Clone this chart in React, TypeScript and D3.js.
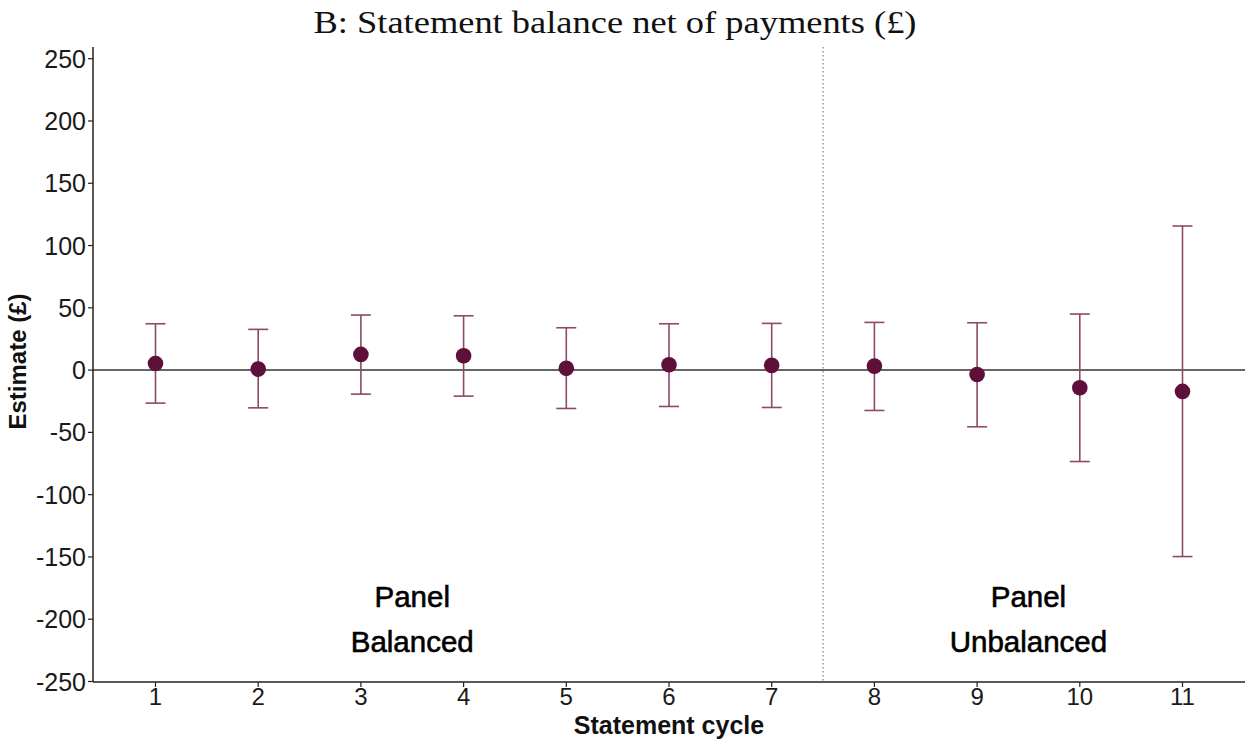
import React from "react";
import * as d3 from "d3";

const cycles = [1, 2, 3, 4, 5, 6, 7, 8, 9, 10, 11];
const estimates = [5.3, 0.8, 12.6, 11.5, 1.4, 4.3, 3.8, 3.2, -3.5, -14.2, -17.1];
const upper = [37.2, 32.7, 44.2, 43.6, 34, 37.2, 37.5, 38.3, 38, 45, 115.7];
const lower = [-26.5, -30.3, -19.3, -20.9, -30.8, -29.2, -30, -32.4, -45.5, -73.4, -149.7];
const yTicks = [250, 200, 150, 100, 50, 0, -50, -100, -150, -200, -250];
const panelLabels = [
  { x: 3.5, lines: ["Panel", "Balanced"] },
  { x: 9.5, lines: ["Panel", "Unbalanced"] },
];
const divider = 7.5;

const W = 1249;
const H = 742;
const left = 93;
const right = 1245;
const top = 47;
const bottom = 682;

export default function App() {
  const x = d3.scaleLinear().domain([1, 11]).range([155.5, 1182.5]);
  const y = d3.scaleLinear().domain([-250, 250]).range([681.5, 58.7]);
  const sans = "'Liberation Sans', Arial, sans-serif";
  const pointColor = "#5e0f3a";
  const barColor = "#8c4a66";
  const capHalf = 10;

  return (
    <svg
      width={W}
      height={H}
      style={{ position: "absolute", left: 0, top: 0, background: "#fff" }}
    >
      <rect x={0} y={0} width={W} height={H} fill="#fff" />
      <text
        x={615}
        y={33}
        textAnchor="middle"
        fontFamily="'Liberation Serif', 'DejaVu Serif', serif"
        fontSize={31}
        fill="#111"
        textLength={603}
        lengthAdjust="spacingAndGlyphs"
      >
        B: Statement balance net of payments (£)
      </text>

      {/* divider */}
      <line
        x1={x(divider)}
        x2={x(divider)}
        y1={top}
        y2={bottom}
        stroke="#999"
        strokeWidth={1.5}
        strokeDasharray="1.5 2.5"
      />

      {/* zero line */}
      <line x1={left} x2={right} y1={y(0)} y2={y(0)} stroke="#333" strokeWidth={1.5} />

      {/* axes */}
      <line x1={left} x2={left} y1={top} y2={bottom} stroke="#222" strokeWidth={1.5} />
      <line x1={left} x2={right} y1={bottom} y2={bottom} stroke="#222" strokeWidth={1.5} />

      {yTicks.map((t) => (
        <g key={t}>
          <line x1={left - 5} x2={left} y1={y(t)} y2={y(t)} stroke="#222" strokeWidth={1.2} />
          <text
            x={left - 7}
            y={y(t)}
            dy="0.36em"
            textAnchor="end"
            fontFamily={sans}
            fontSize={25}
            fill="#1a1a1a"
          >
            {t}
          </text>
        </g>
      ))}

      {cycles.map((c) => (
        <g key={c}>
          <line x1={x(c)} x2={x(c)} y1={bottom} y2={bottom + 5} stroke="#222" strokeWidth={1.2} />
          <text
            x={x(c)}
            y={705}
            textAnchor="middle"
            fontFamily={sans}
            fontSize={24}
            fill="#1a1a1a"
          >
            {c}
          </text>
        </g>
      ))}

      <text
        x={(left + right) / 2}
        y={734}
        textAnchor="middle"
        fontFamily={sans}
        fontWeight="bold"
        fontSize={25}
        fill="#111"
      >
        Statement cycle
      </text>
      <text
        transform={`translate(26, ${(top + bottom) / 2 - 3}) rotate(-90)`}
        textAnchor="middle"
        fontFamily={sans}
        fontWeight="bold"
        fontSize={24}
        fill="#111"
      >
        Estimate (£)
      </text>

      {/* error bars */}
      {cycles.map((c, i) => (
        <g key={"e" + c} stroke={barColor} strokeWidth={1.6}>
          <line x1={x(c)} x2={x(c)} y1={y(upper[i])} y2={y(lower[i])} />
          <line x1={x(c) - capHalf} x2={x(c) + capHalf} y1={y(upper[i])} y2={y(upper[i])} />
          <line x1={x(c) - capHalf} x2={x(c) + capHalf} y1={y(lower[i])} y2={y(lower[i])} />
        </g>
      ))}
      {cycles.map((c, i) => (
        <circle key={"p" + c} cx={x(c)} cy={y(estimates[i])} r={7.8} fill={pointColor} />
      ))}

      {panelLabels.map((p) => (
        <g key={p.lines[1]}>
          {p.lines.map((ln, j) => (
            <text
              key={ln}
              x={x(p.x)}
              y={607 + j * 45}
              textAnchor="middle"
              fontFamily={sans}
              fontSize={29.5}
              fill="#000"
              stroke="#000"
              strokeWidth={0.6}
            >
              {ln}
            </text>
          ))}
        </g>
      ))}
    </svg>
  );
}
